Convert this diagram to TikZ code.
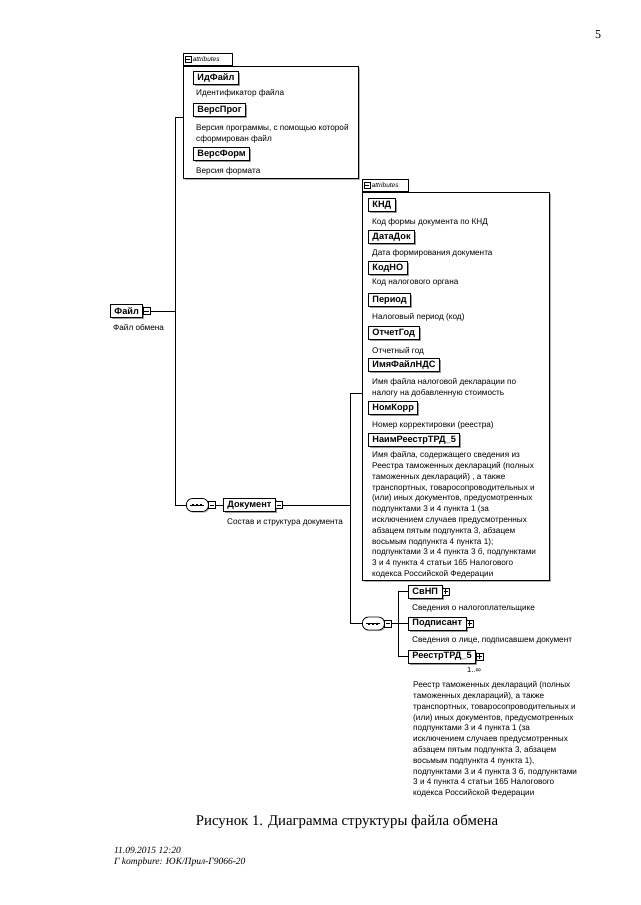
\documentclass[tikz,border=0pt]{standalone}
\usepackage{fontspec}
\setmainfont{Liberation Serif}
\newfontfamily\arialf{Liberation Sans}
\usetikzlibrary{shadows,fit}
\tikzset{
  conn/.style={line width=0.8pt, draw=black},
  elem/.style={draw=black, line width=0.9pt, fill=white,
    font=\arialf\bfseries\fontsize{9.2}{10}\selectfont,
    inner xsep=4pt, inner ysep=0pt, minimum height=13pt, anchor=west,
    drop shadow={shadow xshift=1.5pt, shadow yshift=-1.5pt, fill=black!40, opacity=1}},
  desc/.style={font=\arialf\fontsize{8.2}{10.8}\selectfont, inner sep=0pt, align=left},
  expminus/.style={draw=black, line width=0.6pt, fill=white, minimum size=7pt, inner sep=0pt, anchor=west,
    path picture={\draw[line width=0.6pt] ([xshift=1.3pt]path picture bounding box.west) -- ([xshift=-1.3pt]path picture bounding box.east);}},
  expplus/.style={expminus,
    path picture={\draw[line width=0.6pt] ([xshift=1.3pt]path picture bounding box.west) -- ([xshift=-1.3pt]path picture bounding box.east)
      ([yshift=-1.3pt]path picture bounding box.north) -- ([yshift=1.3pt]path picture bounding box.south);}},
  attrbox/.style={draw=black, line width=0.8pt, fill=white, inner sep=0pt,
    drop shadow={shadow xshift=1.5pt, shadow yshift=-1.5pt, fill=black!30, opacity=1}},
  tabbox/.style={draw=black, line width=0.8pt, fill=white, inner sep=0pt, minimum height=12pt, anchor=south west},
  tabtext/.style={font=\arialf\itshape\fontsize{6.5}{7}\selectfont, inner sep=0pt, anchor=west},
  seqbox/.style={draw=black, line width=0.8pt, fill=white, rounded corners=6pt, minimum width=22pt, minimum height=13pt, inner sep=0pt, anchor=west,
    drop shadow={shadow xshift=1.2pt, shadow yshift=-1.2pt, fill=black!30, opacity=1}},
}
\newcommand{\seqdots}[1]{%
  \draw[line width=0.7pt] ([xshift=-7pt]#1.center) -- ([xshift=7pt]#1.center);
  \foreach \dx in {-4,0,4}{\fill ([xshift=\dx pt]#1.center) +(-1pt,-1pt) rectangle +(1pt,1pt);}}
\begin{document}
\begin{tikzpicture}[x=1pt,y=-1pt]
\useasboundingbox (0,0) rectangle (640,905);
\fill[white] (0,0) rectangle (640,905);

% page number
\node[font=\fontsize{12}{14}\selectfont, inner sep=0pt] (pnum) at (598,35) {5};

% ---------- attributes box 1 ----------
\node[attrbox, fit={(183,66) (358,178)}] (attr1) {};
\node[tabbox, minimum width=49pt] (tab1) at (attr1.north west) {};
\node[expminus, minimum size=6pt] (tabic1) at ([xshift=2pt]tab1.west) {};
\node[tabtext] (tabtx1) at ([xshift=10pt]tab1.west) {attributes};

\node[elem] (idfile) at (193,78) {ИдФайл};
\node[desc, anchor=west] (didfile) at (196,93) {Идентификатор файла};
\node[elem] (versprog) at (193,110) {ВерсПрог};
\node[desc, anchor=north west] (dversprog) at (196,124) {Версия программы, с помощью которой\\сформирован файл};
\node[elem] (versform) at (193,154) {ВерсФорм};
\node[desc, anchor=west] (dversform) at (196,171) {Версия формата};

% ---------- Файл ----------
\node[elem] (file) at (110,311) {Файл};
\node[expminus] (fileic) at ([xshift=-0.5pt]file.east) {};
\node[desc, anchor=west] (dfile) at (113,327) {Файл обмена};

% ---------- sequence 1 and Документ ----------
\node[seqbox] (seq1) at (186,505) {};
\seqdots{seq1}
\node[expminus] (seq1ic) at ([xshift=-0.5pt]seq1.east) {};
\node[elem] (doc) at (223,505) {Документ};
\node[expminus] (docic) at ([xshift=-0.5pt]doc.east) {};
\node[desc, anchor=west] (ddoc) at (227,522) {Состав и структура документа};

% ---------- attributes box 2 ----------
\node[attrbox, fit={(362,192) (549,580)}] (attr2) {};
\node[tabbox, minimum width=46pt] (tab2) at (attr2.north west) {};
\node[expminus, minimum size=6pt] (tabic2) at ([xshift=2pt]tab2.west) {};
\node[tabtext] (tabtx2) at ([xshift=10pt]tab2.west) {attributes};

\node[elem] (knd) at (368,205) {КНД};
\node[desc, anchor=west] (dknd) at (372,222) {Код формы документа по КНД};
\node[elem] (datadok) at (368,237) {ДатаДок};
\node[desc, anchor=west] (ddatadok) at (372,253) {Дата формирования документа};
\node[elem] (kodno) at (368,268) {КодНО};
\node[desc, anchor=west] (dkodno) at (372,283) {Код налогового органа};
\node[elem] (period) at (368,300) {Период};
\node[desc, anchor=west] (dperiod) at (372,317) {Налоговый период (код)};
\node[elem] (otchgod) at (368,333) {ОтчетГод};
\node[desc, anchor=west] (dotchgod) at (372,351) {Отчетный год};
\node[elem] (imyafile) at (368,365) {ИмяФайлНДС};
\node[desc, anchor=north west] (dimyafile) at (372,378.5) {Имя файла налоговой декларации по\\налогу на добавленную стоимость};
\node[elem] (nomkorr) at (368,408) {НомКорр};
\node[desc, anchor=west] (dnomkorr) at (372,425) {Номер корректировки (реестра)};
\node[elem] (naim) at (368,440) {НаимРеестрТРД\_5};
\node[desc, anchor=north west] (dnaim) at (372,451.5) {Имя файла, содержащего сведения из\\Реестра таможенных деклараций (полных\\таможенных деклараций) , а также\\транспортных, товаросопроводительных и\\(или) иных документов, предусмотренных\\подпунктами 3 и 4 пункта 1 (за\\исключением случаев предусмотренных\\абзацем пятым подпункта 3, абзацем\\восьмым подпункта 4 пункта 1);\\подпунктами 3 и 4 пункта 3 б, подпунктами\\3 и 4 пункта 4 статьи 165 Налогового\\кодекса Российской Федерации};

% ---------- sequence 2 and children ----------
\node[seqbox] (seq2) at (362,623.5) {};
\seqdots{seq2}
\node[expminus] (seq2ic) at ([xshift=-0.5pt]seq2.east) {};

\node[elem] (svnp) at (408,591.5) {СвНП};
\node[expplus] (svnpic) at ([xshift=-0.5pt]svnp.east) {};
\node[desc, anchor=west] (dsvnp) at (412,608) {Сведения о налогоплательщике};
\node[elem] (podp) at (408,623.5) {Подписант};
\node[expplus] (podpic) at ([xshift=-0.5pt]podp.east) {};
\node[desc, anchor=west] (dpodp) at (412,640) {Сведения о лице, подписавшем документ};
\node[elem] (reestr) at (408,656.5) {РеестрТРД\_5};
\node[expplus] (reestric) at ([xshift=-0.5pt]reestr.east) {};
\node[font=\arialf\fontsize{7.5}{8}\selectfont, inner sep=0pt] (mult) at (474,670) {1..∞};
\node[desc, anchor=north west] (dreestr) at (413,681.5) {Реестр таможенных деклараций (полных\\таможенных деклараций), а также\\транспортных, товаросопроводительных и\\(или) иных документов, предусмотренных\\подпунктами 3 и 4 пункта 1 (за\\исключением случаев предусмотренных\\абзацем пятым подпункта 3, абзацем\\восьмым подпункта 4 пункта 1),\\подпунктами 3 и 4 пункта 3 б, подпунктами\\3 и 4 пункта 4 статьи 165 Налогового\\кодекса Российской Федерации};

% ---------- connectors ----------
\coordinate (t1top) at (175,117);
\coordinate (t1bot) at (175,505);
\draw[conn] (attr1.west |- t1top) -- (t1top) -- (t1bot) -- (seq1.west);
\draw[conn] (fileic.east) -- (fileic.east -| t1top);
\draw[conn] (seq1ic.east) -- (doc.west);
\coordinate (t2top) at (350,393);
\coordinate (t2bot) at (350,623.5);
\draw[conn] (docic.east) -- (docic.east -| t2top);
\draw[conn] (attr2.west |- t2top) -- (t2top) -- (t2bot) -- (seq2.west);
\coordinate (b2) at (398,623.5);
\draw[conn] (seq2ic.east) -- (b2) -- (podp.west);
\draw[conn] (svnp.west) -- (svnp.west -| b2) -- (reestr.west -| b2) -- (reestr.west);

% ---------- caption and footer ----------
\node[font=\fontsize{14.8}{17}\selectfont, inner sep=0pt] (caption) at (347,822) {Рисунок 1. Диаграмма структуры файла обмена};
\node[font=\itshape\fontsize{9.5}{10.5}\selectfont, inner sep=0pt, align=left, anchor=north west] (footer) at (114,847) {11.09.2015 12:20\\Г kompbure: ЮК/Прил-Г9066-20};
\end{tikzpicture}
\end{document}
